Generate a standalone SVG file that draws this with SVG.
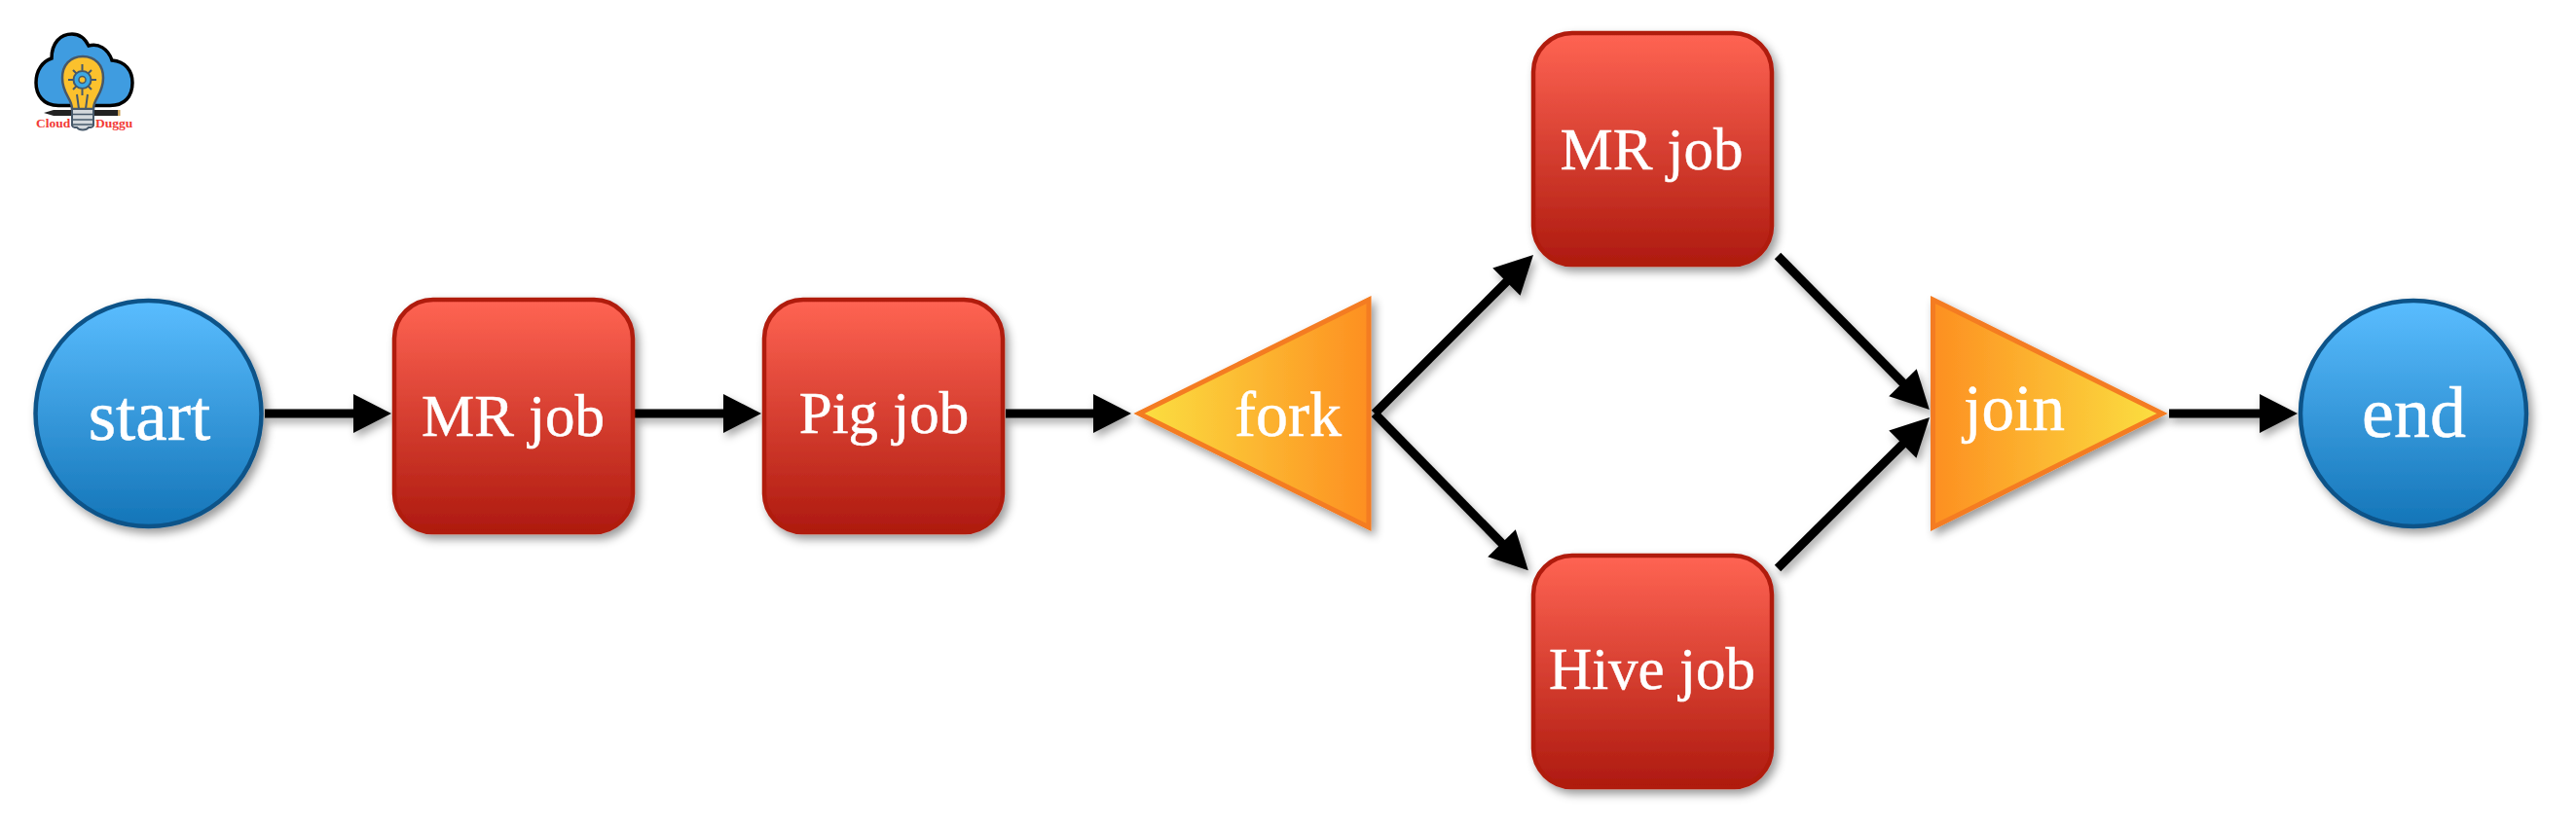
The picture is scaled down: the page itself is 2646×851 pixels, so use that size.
<svg xmlns="http://www.w3.org/2000/svg" width="2646" height="851" viewBox="0 0 2646 851">
<style>
.lbl{font-family:"Liberation Serif","Times New Roman",serif;fill:#fff;stroke:#fff;stroke-width:.5;text-anchor:middle}
.job{fill:url(#red);stroke:#b01b10;stroke-width:4.500;filter:url(#sh)}
.circ{fill:url(#blue);stroke:#0b5288;stroke-width:4.500;filter:url(#sh)}
.tri{stroke:#f47b20;stroke-width:5;filter:url(#sh)}
.arr{stroke:#000;stroke-width:9;fill:none;marker-end:url(#ah)}
.lines{filter:url(#sh2)}
.logo{font-family:"Liberation Serif",serif;font-weight:bold;font-size:13.5px;fill:#f23a36}
</style>
<defs>
<linearGradient id="red" x1="0" y1="0" x2="0" y2="1"><stop offset="0" stop-color="#ff6453"/><stop offset="1" stop-color="#ae1a0f"/></linearGradient>
<linearGradient id="blue" x1="0" y1="0" x2="0" y2="1"><stop offset="0" stop-color="#5abdff"/><stop offset="1" stop-color="#1475b8"/></linearGradient>
<linearGradient id="forkg" x1="0" y1="0" x2="1" y2="0"><stop offset="0" stop-color="#fbe041"/><stop offset="1" stop-color="#fd8f21"/></linearGradient>
<linearGradient id="joing" x1="0" y1="0" x2="1" y2="0"><stop offset="0" stop-color="#fd8f21"/><stop offset="1" stop-color="#fbe041"/></linearGradient>
<filter id="sh" x="-20%" y="-20%" width="145%" height="145%"><feDropShadow dx="4" dy="5" stdDeviation="5" flood-color="#000" flood-opacity="0.4"/></filter>
<filter id="sh2" x="-5%" y="-5%" width="110%" height="110%"><feDropShadow dx="3" dy="5" stdDeviation="4" flood-color="#000" flood-opacity="0.35"/></filter>
<marker id="ah" markerUnits="userSpaceOnUse" markerWidth="42" markerHeight="42" refX="15" refY="20" orient="auto" overflow="visible"><path d="M0 0L39 20L0 40Z" fill="#000"/></marker>
</defs>
<rect width="2646" height="851" fill="#fff"/>
<g id="logo">
<path d="M60 108.500C44 108.500 37 97 37 85C37 72 44 63 53 60C53 44 62 35 74 35C82 35 87 39 91 47C101 44 111 50 115 62C129 63 136 73 136 85C136 99 128 108.500 113 108.500Z" fill="#3f9ce0" stroke="#000" stroke-width="3.5"/>
<path d="M45 116L55 113H122V119H55Z" fill="#222"/><rect x="121" y="113" width="2.500" height="6" fill="#c9a15a"/>
<path d="M74 112C74 101 64 97 64 80C64 67 72 58 85 58C98 58 106 67 106 80C106 97 96 101 96 112Z" fill="#fbc12d" stroke="#46586a" stroke-width="2.500"/>
<path d="M84.500 66V72M84.500 92V98M70 82H76M93 82H99M75 72L79 76M94 72L90 76M75 92L79 88M94 92L90 88M79 97L81 112M90 97L88 112" stroke="#46586a" stroke-width="2" fill="none"/>
<circle cx="84.500" cy="82" r="9" fill="#3ba9e4" stroke="#46586a" stroke-width="2"/><circle cx="84.500" cy="82" r="3.500" fill="#fbc12d" stroke="#46586a" stroke-width="1.500"/>
<path d="M74 112H96V129A3 3 0 0 1 93 131H91A6.500 4 0 0 1 79 131H77A3 3 0 0 1 74 129Z" fill="#d3d8dc" stroke="#46586a" stroke-width="2"/>
<path d="M74 117.500H96M74 123H96M74 128H96" stroke="#46586a" stroke-width="1.500"/>
<text class="logo" x="37" y="131">Cloud</text><text class="logo" x="98" y="131">Duggu</text>
</g>
<g id="connectors" class="lines">
<line class="arr" x1="272" y1="425" x2="378" y2="425"/>
<line class="arr" x1="652" y1="425" x2="758" y2="425"/>
<line class="arr" x1="1033" y1="425" x2="1138" y2="425"/>
<line class="arr" x1="1412" y1="425" x2="1558" y2="279"/>
<line class="arr" x1="1412" y1="425" x2="1553" y2="569"/>
<line class="arr" x1="1826" y1="263" x2="1965" y2="404"/>
<line class="arr" x1="1826" y1="584" x2="1965" y2="446"/>
<line class="arr" x1="2228" y1="425" x2="2336" y2="425"/>
</g>
<g id="start"><circle class="circ" cx="152.500" cy="425" r="116"/><text class="lbl" x="153.500" y="452" font-size="73">start</text></g>
<g id="mr1"><rect class="job" x="405" y="308" width="245" height="239" rx="40"/><text class="lbl" x="527" y="448" font-size="61">MR job</text></g>
<g id="pig"><rect class="job" x="785" y="308" width="245" height="239" rx="40"/><text class="lbl" x="908" y="445" font-size="61">Pig job</text></g>
<g id="fork"><path class="tri" fill="url(#forkg)" d="M1170 425L1406 308V542Z"/><text class="lbl" x="1323" y="448" font-size="66">fork</text></g>
<g id="mr2"><rect class="job" x="1575" y="34" width="245" height="238" rx="40"/><text class="lbl" x="1696.500" y="174" font-size="61">MR job</text></g>
<g id="hive"><rect class="job" x="1575" y="571" width="245" height="238" rx="40"/><text class="lbl" x="1697" y="708" font-size="61">Hive job</text></g>
<g id="join"><path class="tri" fill="url(#joing)" d="M1985.500 308L2221 425L1985.500 542Z"/><text class="lbl" x="2069" y="442" font-size="67">join</text></g>
<g id="end"><circle class="circ" cx="2479" cy="425" r="116"/><text class="lbl" x="2479.500" y="449" font-size="74">end</text></g>
</svg>
